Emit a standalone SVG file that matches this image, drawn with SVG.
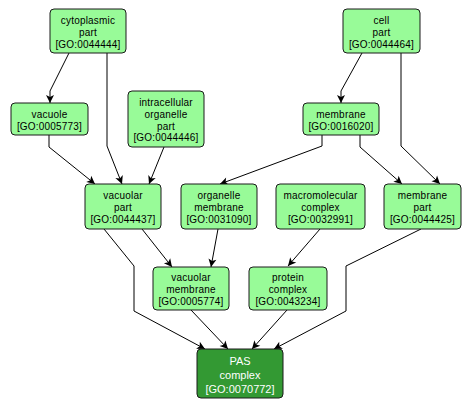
<svg xmlns="http://www.w3.org/2000/svg" width="473" height="409" viewBox="0 0 473 409">
<style>
.n rect{fill:#98fb98;stroke:#1a1a1a;stroke-width:1}
.n text{font-family:"Liberation Sans",Arial,sans-serif;font-size:10px;letter-spacing:0.2px;fill:#000;text-anchor:middle}
.d rect{fill:#339933;stroke:#1a1a1a;stroke-width:1}
.d text{font-family:"Liberation Sans",Arial,sans-serif;font-size:11px;fill:#fff;text-anchor:middle}
.e path{fill:none;stroke:#000;stroke-width:1;marker-end:url(#a)}
</style>
<defs>
<marker id="a" viewBox="-9 -5 10 10" refX="0" refY="0" markerWidth="10" markerHeight="10" markerUnits="userSpaceOnUse" orient="auto">
<path d="M0,0 L-8,-4 L-6,0 L-8,4 Z" fill="#000"/>
</marker>
</defs>
<rect width="473" height="409" fill="#fff"/>
<g class="e" id="edges">
<path d="M69,53 L50,91 L50,103"/>
<path d="M107,53 L107,146 L122,184"/>
<path d="M49,135 L49,147 L95,184"/>
<path d="M164,147 L149,184"/>
<path d="M362,53 L341,91 L341,103"/>
<path d="M401,53 L401,146 L440,184"/>
<path d="M360,135 L360,147 L402,184"/>
<path d="M322,135 L322,146 L220,184"/>
<path d="M104,229 L134,266 L134,311 L205,349"/>
<path d="M142,229 L172,267"/>
<path d="M218,229 L211,267"/>
<path d="M320,229 L288,266"/>
<path d="M421,229 L346,266 L346,311 L274,349"/>
<path d="M191,310 L228,349"/>
<path d="M287,310 L252,349"/>
</g>
<g class="n" id="GO0044444"><rect x="50" y="9" width="76" height="44" rx="4"/><text x="88" y="24">cytoplasmic</text><text x="88" y="36">part</text><text x="88" y="48">[GO:0044444]</text></g>
<g class="n" id="GO0044464"><rect x="343" y="9" width="77" height="44" rx="4"/><text x="381.5" y="24">cell</text><text x="381.5" y="36">part</text><text x="381.5" y="48">[GO:0044464]</text></g>
<g class="n" id="GO0005773"><rect x="11" y="103" width="77" height="32" rx="4"/><text x="49.5" y="118">vacuole</text><text x="49.5" y="130">[GO:0005773]</text></g>
<g class="n" id="GO0044446"><rect x="128" y="91" width="76" height="56" rx="4"/><text x="166" y="106">intracellular</text><text x="166" y="118">organelle</text><text x="166" y="130">part</text><text x="166" y="141">[GO:0044446]</text></g>
<g class="n" id="GO0016020"><rect x="303" y="103" width="76" height="32" rx="4"/><text x="341" y="118">membrane</text><text x="341" y="130">[GO:0016020]</text></g>
<g class="n" id="GO0044437"><rect x="85" y="184" width="76" height="45" rx="4"/><text x="123" y="199">vacuolar</text><text x="123" y="211">part</text><text x="123" y="223">[GO:0044437]</text></g>
<g class="n" id="GO0031090"><rect x="181" y="184" width="76" height="45" rx="4"/><text x="219" y="199">organelle</text><text x="219" y="211">membrane</text><text x="219" y="223">[GO:0031090]</text></g>
<g class="n" id="GO0032991"><rect x="276" y="184" width="89" height="45" rx="4"/><text x="320.5" y="199">macromolecular</text><text x="320.5" y="211">complex</text><text x="320.5" y="223">[GO:0032991]</text></g>
<g class="n" id="GO0044425"><rect x="384" y="184" width="77" height="45" rx="4"/><text x="422.5" y="199">membrane</text><text x="422.5" y="211">part</text><text x="422.5" y="223">[GO:0044425]</text></g>
<g class="n" id="GO0005774"><rect x="153" y="267" width="76" height="43" rx="4"/><text x="191" y="281">vacuolar</text><text x="191" y="293">membrane</text><text x="191" y="305">[GO:0005774]</text></g>
<g class="n" id="GO0043234"><rect x="249" y="267" width="78" height="43" rx="4"/><text x="288" y="281">protein</text><text x="288" y="293">complex</text><text x="288" y="305">[GO:0043234]</text></g>
<g class="d" id="GO0070772"><rect x="197" y="349" width="86" height="49" rx="4"/><text x="240" y="365">PAS</text><text x="240" y="379">complex</text><text x="240" y="393">[GO:0070772]</text></g>
</svg>
